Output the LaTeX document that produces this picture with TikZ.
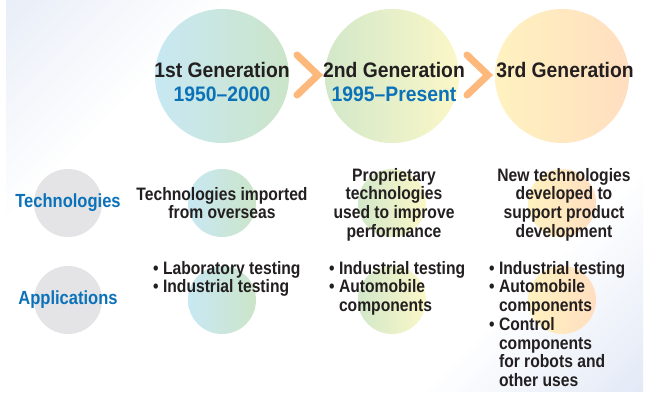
\documentclass[tikz,border=0pt]{standalone}
\usepackage{fontspec}
\setmainfont{Liberation Sans}[FakeStretch=0.87]
\newfontfamily\headfont{Liberation Sans}[FakeStretch=0.92]
\definecolor{bgA}{HTML}{D3DDF0}
\definecolor{bgB}{HTML}{C8D5EE}
\definecolor{txt}{HTML}{231F20}
\definecolor{blu}{HTML}{0B72BA}
\definecolor{chev}{HTML}{FDB97C}
\definecolor{gry}{HTML}{E4E4E6}
\definecolor{oneA}{HTML}{C8E8F3}
\definecolor{oneB}{HTML}{CBE5C9}
\definecolor{twoA}{HTML}{D2E8C9}
\definecolor{twoB}{HTML}{FBF7C8}
\definecolor{thrA}{HTML}{FFF2C0}
\definecolor{thrB}{HTML}{FFDEC0}
\pgfdeclarehorizontalshading{bgshade}{100bp}{color(0bp)=(bgA); color(30bp)=(white); color(70bp)=(white); color(100bp)=(bgB)}
\tikzset{
  big/.style={circle, minimum size=134pt, inner sep=0pt},
  small/.style={circle, minimum size=68pt, inner sep=0pt},
  headtxt/.style={font=\headfont\bfseries\fontsize{21}{24}\selectfont, text=txt, anchor=base, inner sep=0pt},
  yeartxt/.style={font=\headfont\bfseries\fontsize{21}{24}\selectfont, text=blu, anchor=base, inner sep=0pt},
  rowlabel/.style={font=\bfseries\fontsize{19}{20}\selectfont, text=blu, inner sep=0pt},
  body/.style={font=\bfseries\fontsize{18}{18.7}\selectfont, text=txt, align=center, inner sep=0pt},
  bullets/.style={font=\bfseries\fontsize{18}{18.7}\selectfont, text=txt, align=left, inner sep=0pt, anchor=north west},
  chevron/.style={draw=chev, line width=7pt, line cap=round, line join=miter}
}
\begin{document}
\begin{tikzpicture}[x=1pt,y=-1pt]
\useasboundingbox (0,0) rectangle (649,394);
\fill[white] (0,0) rectangle (649,394);
\shade[shading=bgshade, shading angle=-45] (6,0) rectangle (643,391);
% big circles
\node[big, left color=oneA, right color=oneB] (g1) at (222,76) {};
\node[big, left color=twoA, right color=twoB] (g2) at (392,76) {};
\node[big, left color=thrA, right color=thrB] (g3) at (562,76) {};
% small circles
\node[small, fill=gry] (tl) at (68,203) {};
\node[small, fill=gry] (al) at (68,300) {};
\node[small, left color=oneA, right color=oneB] (t1) at (222,203) {};
\node[small, left color=twoA, right color=twoB] (t2) at (392,203) {};
\node[small, left color=thrA, right color=thrB] (t3) at (562,203) {};
\node[small, left color=oneA, right color=oneB] (a1) at (222,300) {};
\node[small, left color=twoA, right color=twoB] (a2) at (392,300) {};
\node[small, left color=thrA, right color=thrB] (a3) at (562,300) {};
% chevrons
\draw[chevron] (297,55) -- (318,75) -- (297,95);
\draw[chevron] (467,55) -- (488,75) -- (467,95);
% headings
\node[headtxt] (h1) at (222,77) {1st Generation};
\node[yeartxt] (y1) at (222,101) {1950–2000};
\node[headtxt] (h2) at (394,77) {2nd Generation};
\node[yeartxt] (y2) at (394,101) {1995–Present};
\node[headtxt] (h3) at (565,77) {3rd Generation};
% row labels
\node[rowlabel] (lt) at (68,203) {Technologies};
\node[rowlabel] (la) at (68,300) {Applications};
% technologies
\node[body, anchor=north] (c1) at (222,187) {Technologies imported\\from overseas};
\node[body, anchor=north] (c2) at (394,168) {Proprietary\\technologies\\used to improve\\performance};
\node[body, anchor=north] (c3) at (564,168) {New technologies\\developed to\\support product\\development};
% applications
\node[bullets] (b1) at (153,261) {• Laboratory testing\\• Industrial testing};
\node[bullets] (b2) at (329,261) {• Industrial testing\\• Automobile\\\phantom{• }components};
\node[bullets] (b3) at (489,261) {• Industrial testing\\• Automobile\\\phantom{• }components\\• Control\\\phantom{• }components\\\phantom{• }for robots and\\\phantom{• }other uses};
\end{tikzpicture}
\end{document}
